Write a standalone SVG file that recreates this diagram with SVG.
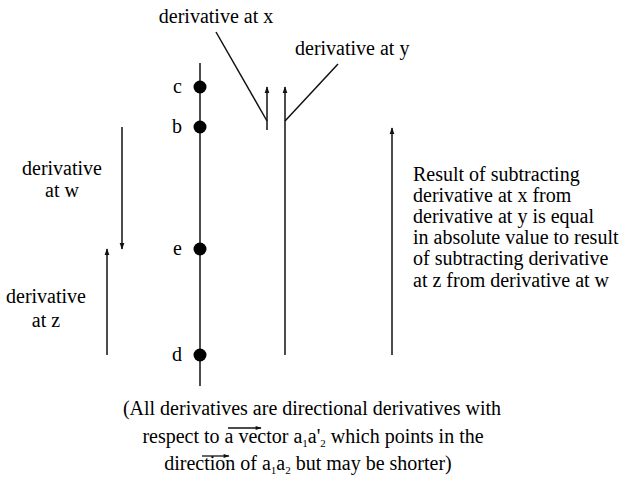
<svg xmlns="http://www.w3.org/2000/svg" width="624" height="488" viewBox="0 0 624 488">
<defs>
<marker id="ah" viewBox="0 0 10 10" refX="9" refY="5" markerWidth="7" markerHeight="7" markerUnits="userSpaceOnUse" orient="auto">
<path d="M0,1.5 L10,5 L0,8.5 Z" fill="#111"/>
</marker>
<marker id="sah" viewBox="0 0 10 10" refX="9" refY="5" markerWidth="7" markerHeight="6" markerUnits="userSpaceOnUse" orient="auto">
<path d="M0,1.5 L10,5 L0,8.5 Z" fill="#111"/>
</marker>
</defs>
<g id="connectors" stroke="#111" stroke-width="1.5" fill="none">
<line x1="200" y1="63" x2="200" y2="386"/>
<line x1="267" y1="130" x2="267" y2="87" marker-end="url(#ah)"/>
<line x1="285" y1="355" x2="285" y2="87" marker-end="url(#ah)"/>
<line x1="216" y1="32" x2="267" y2="121"/>
<line x1="285" y1="121" x2="338" y2="64"/>
<line x1="122" y1="127" x2="122" y2="249" marker-end="url(#ah)"/>
<line x1="107" y1="355" x2="107" y2="249" marker-end="url(#ah)"/>
<line x1="392" y1="355" x2="392" y2="128" marker-end="url(#ah)"/>
</g>
<g id="node-c"><circle cx="200" cy="87" r="6.5" fill="#000"/><text x="182" y="93" text-anchor="end" font-family="Liberation Serif" font-size="20">c</text></g>
<g id="node-b"><circle cx="200" cy="127" r="6.5" fill="#000"/><text x="182" y="133" text-anchor="end" font-family="Liberation Serif" font-size="20">b</text></g>
<g id="node-e"><circle cx="200" cy="249" r="6.5" fill="#000"/><text x="182" y="255" text-anchor="end" font-family="Liberation Serif" font-size="20">e</text></g>
<g id="node-d"><circle cx="200" cy="355" r="6.5" fill="#000"/><text x="182" y="361" text-anchor="end" font-family="Liberation Serif" font-size="20">d</text></g>
<g id="label-x"><text x="216" y="23" text-anchor="middle" font-family="Liberation Serif" font-size="20">derivative at x</text></g>
<g id="label-y"><text x="295" y="55" font-family="Liberation Serif" font-size="20">derivative at y</text></g>
<g id="label-w"><text x="62" y="175" text-anchor="middle" font-family="Liberation Serif" font-size="20">derivative</text><text x="62" y="197" text-anchor="middle" font-family="Liberation Serif" font-size="20">at w</text></g>
<g id="label-z"><text x="46" y="303" text-anchor="middle" font-family="Liberation Serif" font-size="20">derivative</text><text x="46" y="327" text-anchor="middle" font-family="Liberation Serif" font-size="20">at z</text></g>
<g id="label-result">
<text x="413" y="181" font-family="Liberation Serif" font-size="20">Result of subtracting</text>
<text x="413" y="202" font-family="Liberation Serif" font-size="20">derivative at x from</text>
<text x="413" y="223" font-family="Liberation Serif" font-size="20">derivative at y is equal</text>
<text x="413" y="244" font-family="Liberation Serif" font-size="20">in absolute value to result</text>
<text x="413" y="265" font-family="Liberation Serif" font-size="20">of subtracting derivative</text>
<text x="413" y="287" font-family="Liberation Serif" font-size="20">at z from derivative at w</text>
</g>
<g id="caption">
<text x="312" y="415" text-anchor="middle" font-family="Liberation Serif" font-size="20">(All derivatives are directional derivatives with</text>
<text x="313" y="443" text-anchor="middle" font-family="Liberation Serif" font-size="20">respect to a vector  a<tspan font-size="11" dy="4">1</tspan><tspan dy="-4">a'</tspan><tspan font-size="11" dy="4">2</tspan><tspan dy="-4"> which points in the</tspan></text>
<text x="308" y="470" text-anchor="middle" font-family="Liberation Serif" font-size="20">direction of  a<tspan font-size="11" dy="4">1</tspan><tspan dy="-4">a</tspan><tspan font-size="11" dy="4">2</tspan><tspan dy="-4"> but may be shorter)</tspan></text>
<line x1="228" y1="428" x2="261" y2="428" stroke="#111" stroke-width="1.3" marker-end="url(#sah)"/>
<line x1="202" y1="456" x2="229" y2="456" stroke="#111" stroke-width="1.3" marker-end="url(#sah)"/>
</g>
</svg>
